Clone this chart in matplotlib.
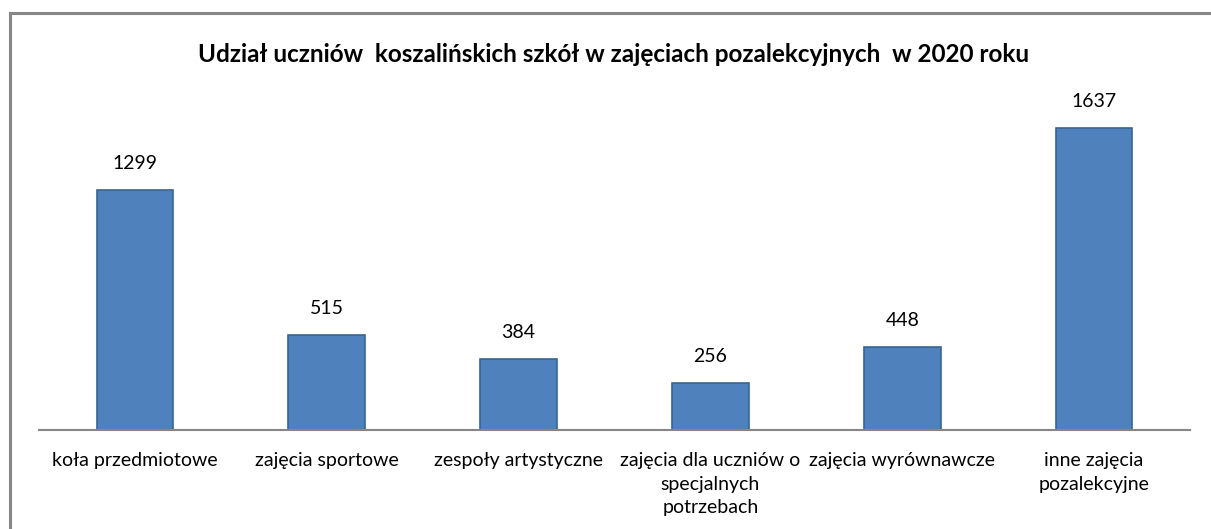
import matplotlib.pyplot as plt
from matplotlib.lines import Line2D

categories = ["koła przedmiotowe", "zajęcia sportowe", "zespoły artystyczne",
              "zajęcia dla uczniów o\nspecjalnych\npotrzebach",
              "zajęcia wyrównawcze", "inne zajęcia\npozalekcyjne"]
values = [1299, 515, 384, 256, 448, 1637]
title = "Udział uczniów  koszalińskich szkół w zajęciach pozalekcyjnych  w 2020 roku"

plt.rcParams['font.family'] = ['Lato', 'DejaVu Sans']

W, H = 1211, 529
fig = plt.figure(figsize=(W / 100, H / 100), dpi=100)

# outer chart frame (Excel-style), only top and left edges are in view
fx, fy = 10.5 / W, 1 - 12.5 / H
fig.lines.append(Line2D([fx, 1.0], [fy, fy], transform=fig.transFigure,
                        color="#868686", linewidth=2.2))
fig.lines.append(Line2D([fx, fx], [0.0, fy], transform=fig.transFigure,
                        color="#868686", linewidth=2.2))

ax = fig.add_axes([39 / W, (H - 430) / H, (1190 - 39) / W, 350 / H])
x = range(len(values))
bars = ax.bar(x, values, width=0.40, color="#4F81BD", edgecolor="#3A6393", linewidth=1.2)
ax.set_xlim(-0.5, len(values) - 0.5)
ax.set_ylim(0, 350 / 0.1845)

for b, v in zip(bars, values):
    ax.annotate(str(v), (b.get_x() + b.get_width() / 2, v), xytext=(0, 19),
                textcoords="offset points", ha="center", va="center",
                fontsize=14, color="black")

ax.set_xticks(list(x))
ax.set_xticklabels(categories, fontsize=14, linespacing=1.45, va="top")
ax.tick_params(axis="x", length=0, pad=16)
ax.set_yticks([])
for s in ["top", "right", "left"]:
    ax.spines[s].set_visible(False)
ax.spines["bottom"].set_color("#868686")
ax.spines["bottom"].set_linewidth(1.5)

fig.text(614 / W, 1 - 55 / H, title, ha="center", va="center",
         fontsize=17.5, fontweight="bold")

fig.savefig("out.png", dpi=100)
